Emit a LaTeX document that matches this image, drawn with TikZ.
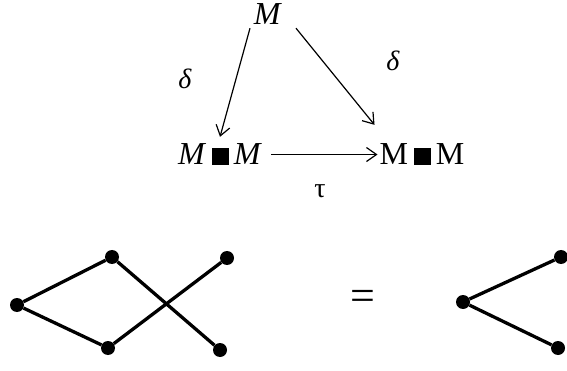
\documentclass[tikz,border=0pt]{standalone}
\usepackage{fontspec}
\setmainfont{Liberation Serif}
\usetikzlibrary{arrows.meta}
\tikzset{
  lbl/.style={inner sep=0pt, font=\fontsize{32}{38}\selectfont},
  glbl/.style={inner sep=0pt, font=\fontsize{28}{34}\selectfont},
  arr/.style={line width=1.2pt, -{Straight Barb[length=10pt,width=14pt,line width=1.2pt]}},
  dot/.style={circle, fill=black, inner sep=0pt, minimum size=14pt},
  edge/.style={line width=3.3pt},
}
\newcommand{\sq}{\rule{17pt}{17pt}}
\begin{document}
\begin{tikzpicture}[x=1pt,y=-1pt]
\useasboundingbox (0,0) rectangle (567,371);
% diagram
\node[lbl, anchor=base] (top) at (268,25) {\textit{M}};
\node[lbl, anchor=base] (left) at (220,165) {\textit{M}\,\sq\,\textit{M}};
\node[lbl, anchor=base] (right) at (422,165) {M\,\sq\,M};
\node[glbl] (d1) at (185,79) {\textit{δ}};
\node[glbl] (d2) at (393,61) {\textit{δ}};
\node[glbl] (t) at (320,191) {τ};
\draw[arr] ([xshift=-18pt,yshift=-3pt]top.south) -- ([yshift=7pt]left.north);
\draw[arr] ([xshift=28pt,yshift=-3pt]top.south) -- ([xshift=-5pt,yshift=19pt]right.north west);
\draw[arr] ([xshift=9pt]left.east) -- ([xshift=-2pt]right.west);
% graphs
\node[dot] (a) at (17,305) {};
\node[dot] (b) at (112,257) {};
\node[dot] (c) at (108,348) {};
\node[dot] (e) at (227,258) {};
\node[dot] (f) at (220,350) {};
\draw[edge] (a) -- (b);
\draw[edge] (a) -- (c);
\draw[edge] (b) -- (f);
\draw[edge] (c) -- (e);
\node[inner sep=0pt, font=\fontsize{44}{50}\selectfont] (eq) at (363,300) {=};
\node[dot] (g) at (463,302) {};
\node[dot] (h) at (561,257) {};
\node[dot] (k) at (558,348) {};
\draw[edge] (g) -- (h);
\draw[edge] (g) -- (k);
\end{tikzpicture}
\end{document}
